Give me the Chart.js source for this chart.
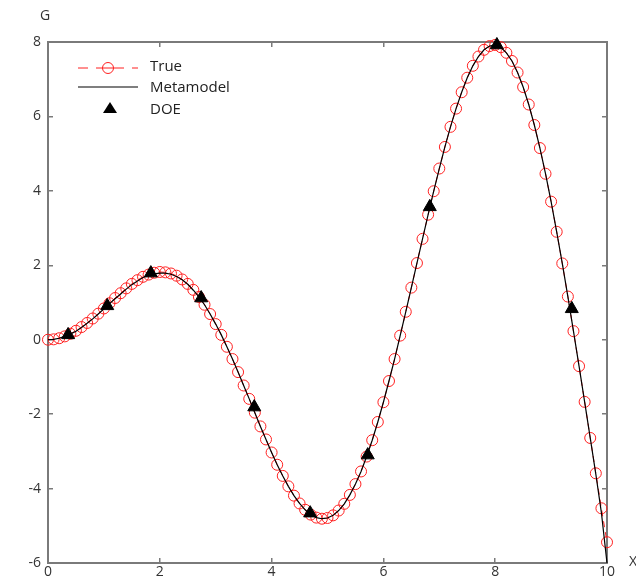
<!DOCTYPE html>
<html>
<head>
<meta charset="utf-8">
<script src="https://cdn.jsdelivr.net/npm/chart.js@4/dist/chart.umd.min.js"></script>
<style>
    html, body { margin: 0; padding: 0; background: #fff; }
</style>
</head>
<body>
<canvas id="chart" width="636" height="585"></canvas>
<script>
// sample positions of the "True" curve (circles)
const xs = [
    0.0, 0.1, 0.2, 0.3, 0.4, 0.5, 0.6, 0.7, 0.8, 0.9,
    1.0, 1.1, 1.2, 1.3, 1.4, 1.5, 1.6, 1.7, 1.8, 1.9,
    2.0, 2.1, 2.2, 2.3, 2.4, 2.5, 2.6, 2.7, 2.8, 2.9,
    3.0, 3.1, 3.2, 3.3, 3.4, 3.5, 3.6, 3.7, 3.8, 3.9,
    4.0, 4.1, 4.2, 4.3, 4.4, 4.5, 4.6, 4.7, 4.8, 4.9,
    5.0, 5.1, 5.2, 5.3, 5.4, 5.5, 5.6, 5.7, 5.8, 5.9,
    6.0, 6.1, 6.2, 6.3, 6.4, 6.5, 6.6, 6.7, 6.8, 6.9,
    7.0, 7.1, 7.2, 7.3, 7.4, 7.5, 7.6, 7.7, 7.8, 7.9,
    8.0, 8.1, 8.2, 8.3, 8.4, 8.5, 8.6, 8.7, 8.8, 8.9,
    9.0, 9.1, 9.2, 9.3, 9.4, 9.5, 9.6, 9.7, 9.8, 9.9,
    10.0
];

const trueG = [
    0.00, 0.01, 0.04, 0.09, 0.16, 0.24, 0.34, 0.45, 0.57, 0.70,
    0.84, 0.98, 1.12, 1.25, 1.38, 1.50, 1.60, 1.69, 1.75, 1.80,
    1.82, 1.81, 1.78, 1.72, 1.62, 1.50, 1.34, 1.15, 0.94, 0.69,
    0.42, 0.13, -0.19, -0.52, -0.87, -1.23, -1.59, -1.96, -2.33, -2.68,
    -3.03, -3.36, -3.66, -3.94, -4.19, -4.40, -4.57, -4.70, -4.78, -4.81,
    -4.79, -4.72, -4.59, -4.41, -4.17, -3.88, -3.54, -3.14, -2.70, -2.21,
    -1.68, -1.11, -0.52, 0.11, 0.75, 1.40, 2.06, 2.71, 3.36, 3.99,
    4.60, 5.18, 5.72, 6.21, 6.65, 7.04, 7.36, 7.61, 7.79, 7.89,
    7.92, 7.86, 7.71, 7.49, 7.18, 6.79, 6.32, 5.77, 5.15, 4.46,
    3.71, 2.90, 2.05, 1.16, 0.23, -0.71, -1.67, -2.64, -3.59, -4.53,
    -5.44
];

const metaG = [
    0.00, 0.01, 0.04, 0.09, 0.15, 0.23, 0.33, 0.44, 0.56, 0.69,
    0.83, 0.97, 1.10, 1.23, 1.36, 1.48, 1.58, 1.67, 1.73, 1.77,
    1.79, 1.79, 1.76, 1.70, 1.61, 1.49, 1.33, 1.15, 0.94, 0.69,
    0.42, 0.13, -0.19, -0.52, -0.87, -1.23, -1.59, -1.96, -2.33, -2.68,
    -3.03, -3.36, -3.66, -3.94, -4.19, -4.40, -4.57, -4.70, -4.78, -4.81,
    -4.79, -4.72, -4.59, -4.41, -4.17, -3.88, -3.54, -3.14, -2.70, -2.21,
    -1.68, -1.11, -0.52, 0.11, 0.75, 1.40, 2.06, 2.71, 3.36, 3.99,
    4.60, 5.18, 5.72, 6.21, 6.65, 7.04, 7.36, 7.61, 7.79, 7.89,
    7.92, 7.86, 7.71, 7.49, 7.18, 6.79, 6.32, 5.77, 5.15, 4.46,
    3.71, 2.90, 2.05, 1.16, 0.23, -0.71, -1.67, -2.64, -3.61, -4.65,
    -6.00
];

// design of experiments points
const doeX = [0.36, 1.06, 1.84, 2.74, 3.69, 4.69, 5.72, 6.83, 8.03, 9.37];
const doeG = [0.13, 0.91, 1.79, 1.12, -1.81, -4.66, -3.10, 3.57, 7.92, 0.83];

const xTicks = [0, 2, 4, 6, 8, 10];
const yTicks = [-6, -4, -2, 0, 2, 4, 6, 8];

const FONT = "'Open Sans', 'Liberation Sans', sans-serif";
const AXIS_COLOR = "#7a7a7a";

function pairs(xa, ya) {
    return xa.map((x, i) => ({ x: x, y: ya[i] }));
}

// every side of the box is an axis; ticks point inwards (negative length)
function boxAxis(position, min, max, tickValues, showLabels) {
    const horizontal = position === "bottom" || position === "top";
    return {
        type: "linear",
        position: position,
        min: min,
        max: max,
        border: { display: true, color: AXIS_COLOR, width: 2 },
        grid: {
            display: true,
            drawOnChartArea: false,
            drawTicks: true,
            tickLength: -5,
            color: AXIS_COLOR,
            lineWidth: 1.5
        },
        afterBuildTicks: s => { s.ticks = tickValues.map(v => ({ value: v })); },
        afterFit: s => {
            if (horizontal) s.height = showLabels ? 22 : 0;
            else s.width = showLabels ? 48 : 0;
        },
        ticks: {
            display: showLabels,
            color: "#333",
            font: { family: FONT, size: 14 },
            padding: horizontal ? 6 : 12,
            maxRotation: 0
        }
    };
}

// legend inside the plot and the axis names
const decorations = {
    id: "decorations",
    afterDraw(c) {
        const ctx = c.ctx;
        ctx.save();
        const lx0 = 78, lx1 = 138, tx = 150;
        ctx.strokeStyle = "#ff2020";
        ctx.lineWidth = 1;
        ctx.setLineDash([10, 8]);
        ctx.beginPath();
        ctx.moveTo(lx0, 68); ctx.lineTo(lx1, 68);
        ctx.stroke();
        ctx.setLineDash([]);
        ctx.fillStyle = "#fff";
        ctx.beginPath();
        ctx.arc(108, 68, 5.5, 0, Math.PI * 2);
        ctx.fill();
        ctx.stroke();
        ctx.beginPath();
        ctx.moveTo(102, 68); ctx.lineTo(114, 68);
        ctx.stroke();

        ctx.strokeStyle = "#000";
        ctx.lineWidth = 1.2;
        ctx.beginPath();
        ctx.moveTo(lx0, 87); ctx.lineTo(lx1, 87);
        ctx.stroke();

        ctx.fillStyle = "#000";
        ctx.beginPath();
        ctx.moveTo(110, 102); ctx.lineTo(117, 113); ctx.lineTo(103, 113);
        ctx.closePath();
        ctx.fill();

        ctx.fillStyle = "#222";
        ctx.font = "15px " + FONT;
        ctx.textAlign = "left";
        ctx.textBaseline = "middle";
        ctx.fillText("True", tx, 67);
        ctx.fillText("Metamodel", tx, 88);
        ctx.fillText("DOE", tx, 110);

        ctx.fillStyle = "#333";
        ctx.font = "14px " + FONT;
        ctx.fillText("G", 40, 16);
        ctx.fillText("X", 629, 562);
        ctx.restore();
    }
};

new Chart(document.getElementById("chart"), {
    type: "scatter",
    data: {
        datasets: [
            {
                label: "DOE",
                data: pairs(doeX, doeG),
                pointStyle: "triangle",
                pointRadius: 7.5,
                pointBackgroundColor: "#000",
                pointBorderColor: "#000",
                pointBorderWidth: 1,
                showLine: false,
                clip: false,
                order: 0
            },
            {
                label: "Metamodel",
                data: pairs(xs, metaG),
                showLine: true,
                borderColor: "#000",
                borderWidth: 1.2,
                pointRadius: 0,
                clip: false,
                order: 1
            },
            {
                label: "True",
                data: pairs(xs, trueG),
                showLine: true,
                borderColor: "#ff2020",
                borderWidth: 1,
                borderDash: [6, 5],
                pointStyle: "circle",
                pointRadius: 5.5,
                pointBorderWidth: 1,
                pointBorderColor: "#ff2020",
                pointBackgroundColor: "rgba(255,255,255,0)",
                clip: false,
                order: 2
            }
        ]
    },
    options: {
        responsive: false,
        animation: false,
        layout: { padding: { left: 0, top: 42, right: 29, bottom: 0 } },
        plugins: {
            legend: { display: false },
            tooltip: { enabled: false }
        },
        scales: {
            x: boxAxis("bottom", 0, 10, xTicks, true),
            y: boxAxis("left", -6, 8, yTicks, true),
            x2: boxAxis("top", 0, 10, xTicks, false),
            y2: boxAxis("right", -6, 8, yTicks, false)
        }
    },
    plugins: [decorations]
});
</script>
</body>
</html>
